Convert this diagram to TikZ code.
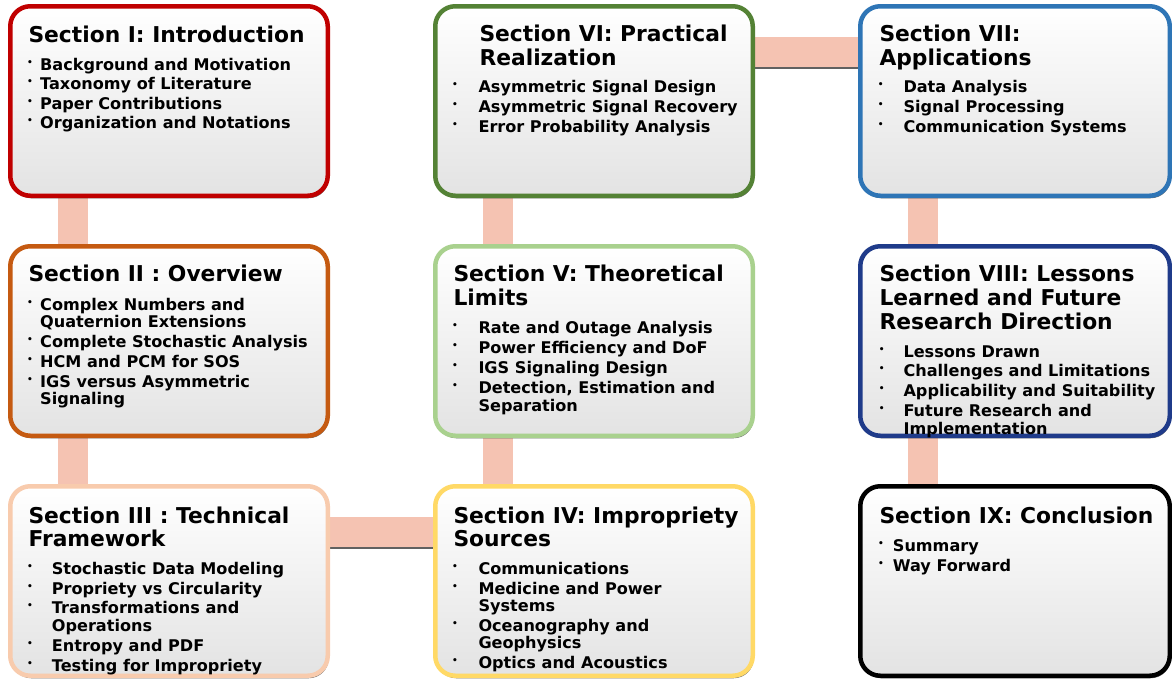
\documentclass[tikz,border=0pt]{standalone}
\usepackage{fontspec}
\setmainfont{DejaVu Sans}
\usetikzlibrary{shadows,calc}
\definecolor{cI}{HTML}{C00000}
\definecolor{cII}{HTML}{C55A11}
\definecolor{cIII}{HTML}{F8CBAD}
\definecolor{cIV}{HTML}{FFD966}
\definecolor{cV}{HTML}{A9D18E}
\definecolor{cVI}{HTML}{548235}
\definecolor{cVII}{HTML}{2E75B6}
\definecolor{cVIII}{HTML}{1F3B8A}
\definecolor{cIX}{HTML}{000000}
\definecolor{barc}{HTML}{F5C3B2}
\newcommand{\bul}[1]{\llap{\raisebox{4.7pt}{\fontsize{9}{9}\selectfont •}\hspace{#1pt}}}
\tikzset{
  secbox/.style={rectangle, rounded corners=20pt, line width=4.5pt,
    minimum width=317.5pt, minimum height=189.5pt, inner sep=0pt,
    top color=white, middle color=white, bottom color=black!11,
    drop shadow={shadow xshift=1pt, shadow yshift=-2.5pt, opacity=0.8, fill=black!70}},
  narrowbox/.style={minimum width=309.5pt},
  bar/.style={fill=barc},
  barshadow/.style={fill=black!62},
  ttl/.style={anchor=base west, inner sep=0pt, font=\fontsize{21.8}{24}\selectfont\bfseries},
  itm/.style={anchor=base west, inner sep=0pt, font=\fontsize{16.1}{19}\selectfont\bfseries}
}
\begin{document}
\begin{tikzpicture}[x=1pt,y=-1pt]
\useasboundingbox (0,0) rectangle (1172,680);
% invisible placement of boxes first (for connector coordinates)
\path (169,101) node[minimum width=317.5pt, minimum height=189.5pt, inner sep=0pt] (p1) {}
      (169,341) node[minimum width=317.5pt, minimum height=189.5pt, inner sep=0pt] (p2) {}
      (169,581) node[minimum width=317.5pt, minimum height=189.5pt, inner sep=0pt] (p3) {}
      (594,581) node[minimum width=317.5pt, minimum height=189.5pt, inner sep=0pt] (p4) {}
      (594,341) node[minimum width=317.5pt, minimum height=189.5pt, inner sep=0pt] (p5) {}
      (594,101) node[minimum width=317.5pt, minimum height=189.5pt, inner sep=0pt] (p6) {}
      (1015,101) node[minimum width=309.5pt, minimum height=189.5pt, inner sep=0pt] (p7) {}
      (1015,341) node[minimum width=309.5pt, minimum height=189.5pt, inner sep=0pt] (p8) {}
      (1015,581) node[minimum width=309.5pt, minimum height=189.5pt, inner sep=0pt] (p9) {};
% connectors
\fill[bar] ($(p1.south west)+(48,0)$) rectangle ($(p2.north west)+(78,0)$);
\fill[bar] ($(p2.south west)+(48,0)$) rectangle ($(p3.north west)+(78,0)$);
\fill[bar] ($(p5.south west)+(48,0)$) rectangle ($(p4.north west)+(78,0)$);
\fill[bar] ($(p6.south west)+(48,0)$) rectangle ($(p5.north west)+(78,0)$);
\fill[bar] ($(p7.south west)+(48,0)$) rectangle ($(p8.north west)+(78,0)$);
\fill[bar] ($(p8.south west)+(48,0)$) rectangle ($(p9.north west)+(78,0)$);
\fill[barshadow] ($(p3.north east)+(0,33.25)$) rectangle ($(p4.north west)+(0,63.25)$);
\fill[bar] ($(p3.north east)+(0,30.75)$) rectangle ($(p4.north west)+(0,60.75)$);
\fill[barshadow] ($(p6.north east)+(0,33.25)$) rectangle ($(p7.north west)+(0,63.25)$);
\fill[bar] ($(p6.north east)+(0,30.75)$) rectangle ($(p7.north west)+(0,60.75)$);
% boxes
\node[secbox, draw=cI] (s1) at (p1) {};
\node[secbox, draw=cII] (s2) at (p2) {};
\node[secbox, draw=cIII] (s3) at (p3) {};
\node[secbox, draw=cIV] (s4) at (p4) {};
\node[secbox, draw=cV] (s5) at (p5) {};
\node[secbox, draw=cVI] (s6) at (p6) {};
\node[secbox, narrowbox, draw=cVII] (s7) at (p7) {};
\node[secbox, narrowbox, draw=cVIII] (s8) at (p8) {};
\node[secbox, narrowbox, draw=cIX] (s9) at (p9) {};
% Section I
\node[ttl] (s1t) at (28.3,42) {Section I: Introduction};
\node[itm] (s1a) at (40,70) {\bul{7.3}Background and Motivation};
\node[itm] (s1b) at (40,89.5) {\bul{7.3}Taxonomy of Literature};
\node[itm] (s1c) at (40,109) {\bul{7.3}Paper Contributions};
\node[itm] (s1d) at (40,128.5) {\bul{7.3}Organization and Notations};
% Section II
\node[ttl] (s2t) at (28.3,281.5) {Section II : Overview};
\node[itm] (s2a) at (40,310) {\bul{7.3}Complex Numbers and};
\node[itm] (s2a2) at (40,327) {Quaternion Extensions};
\node[itm] (s2b) at (40,347) {\bul{7.3}Complete Stochastic Analysis};
\node[itm] (s2c) at (40,367) {\bul{7.3}HCM and PCM for SOS};
\node[itm] (s2d) at (40,387) {\bul{7.3}IGS versus Asymmetric};
\node[itm] (s2d2) at (40,404) {Signaling};
% Section III
\node[ttl] (s3t) at (28.3,523) {Section III : Technical};
\node[ttl] (s3t2) at (28.3,546) {Framework};
\node[itm] (s3a) at (51.7,574) {\bul{19}Stochastic Data Modeling};
\node[itm] (s3b) at (51.7,594) {\bul{19}Propriety vs Circularity};
\node[itm] (s3c) at (51.7,613) {\bul{19}Transformations and};
\node[itm] (s3c2) at (51.7,631) {Operations};
\node[itm] (s3d) at (51.7,651) {\bul{19}Entropy and PDF};
\node[itm] (s3e) at (51.7,671) {\bul{19}Testing for Impropriety};
% Section IV
\node[ttl] (s4t) at (453.3,523) {Section IV: Impropriety};
\node[ttl] (s4t2) at (453.3,546) {Sources};
\node[itm] (s4a) at (478.3,574) {\bul{20.7}Communications};
\node[itm] (s4b) at (478.3,594) {\bul{20.7}Medicine and Power};
\node[itm] (s4b2) at (478.3,611) {Systems};
\node[itm] (s4c) at (478.3,631) {\bul{20.7}Oceanography and};
\node[itm] (s4c2) at (478.3,648) {Geophysics};
\node[itm] (s4d) at (478.3,668) {\bul{20.7}Optics and Acoustics};
% Section V
\node[ttl] (s5t) at (453.3,281.5) {Section V: Theoretical};
\node[ttl] (s5t2) at (453.3,305) {Limits};
\node[itm] (s5a) at (478.3,333) {\bul{20.7}Rate and Outage Analysis};
\node[itm] (s5b) at (478.3,353) {\bul{20.7}Power Efficiency and DoF};
\node[itm] (s5c) at (478.3,373) {\bul{20.7}IGS Signaling Design};
\node[itm] (s5d) at (478.3,393) {\bul{20.7}Detection, Estimation and};
\node[itm] (s5d2) at (478.3,411) {Separation};
% Section VI
\node[ttl] (s6t) at (479.3,41.5) {Section VI: Practical};
\node[ttl] (s6t2) at (479.3,65) {Realization};
\node[itm] (s6a) at (478.3,92.5) {\bul{20.7}Asymmetric Signal Design};
\node[itm] (s6b) at (478.3,112.5) {\bul{20.7}Asymmetric Signal Recovery};
\node[itm] (s6c) at (478.3,132.5) {\bul{20.7}Error Probability Analysis};
% Section VII
\node[ttl] (s7t) at (879.3,41.5) {Section VII:};
\node[ttl] (s7t2) at (879.3,65) {Applications};
\node[itm] (s7a) at (903.3,92.5) {\bul{20}Data Analysis};
\node[itm] (s7b) at (903.3,112.5) {\bul{20}Signal Processing};
\node[itm] (s7c) at (903.3,132.5) {\bul{20}Communication Systems};
% Section VIII
\node[ttl] (s8t) at (879.3,281.5) {Section VIII: Lessons};
\node[ttl] (s8t2) at (879.3,305.5) {Learned and Future};
\node[ttl] (s8t3) at (879.3,329.5) {Research Direction};
\node[itm] (s8a) at (903.3,357) {\bul{19}Lessons Drawn};
\node[itm] (s8b) at (903.3,376.5) {\bul{19}Challenges and Limitations};
\node[itm] (s8c) at (903.3,396) {\bul{19}Applicability and Suitability};
\node[itm] (s8d) at (903.3,416) {\bul{19}Future Research and};
\node[itm] (s8d2) at (903.3,434) {Implementation};
% Section IX
\node[ttl] (s9t) at (879.3,523.5) {Section IX: Conclusion};
\node[itm] (s9a) at (892.7,551) {\bul{9}Summary};
\node[itm] (s9b) at (892.7,571) {\bul{9}Way Forward};
\end{tikzpicture}
\end{document}
